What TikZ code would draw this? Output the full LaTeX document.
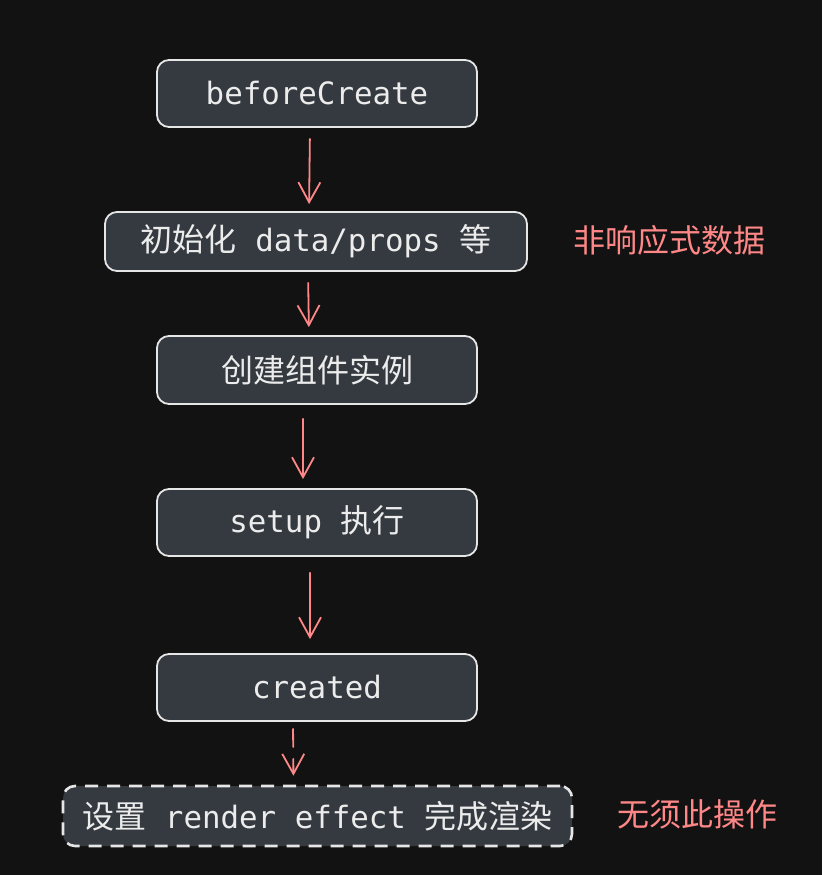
\documentclass[tikz,border=0pt]{standalone}
\usepackage{fontspec}
\setmonofont{DejaVu Sans Mono}
\newfontfamily\cjk{Noto Sans CJK SC}
\usetikzlibrary{arrows.meta}
\definecolor{bgc}{HTML}{121212}
\definecolor{boxfill}{HTML}{343A40}
\definecolor{boxline}{HTML}{E6E6E6}
\definecolor{txt}{HTML}{ECECEC}
\definecolor{redc}{HTML}{FF8787}
\newcommand{\M}[1]{{\ttfamily\fontsize{30.8}{36}\selectfont #1}}
\newcommand{\C}[1]{{\cjk\fontsize{32}{38}\selectfont #1}}
\tikzset{
  box/.style={draw=boxline, fill=boxfill, line width=1.8pt, rounded corners=12pt,
    text=txt, inner sep=0pt, anchor=center},
  arr/.style={draw=redc, line width=1.8pt, line cap=round,
    -{Straight Barb[length=20pt,width=22pt,line width=1.8pt]}},
  lab/.style={text=redc, inner sep=0pt}
}
\begin{document}
\begin{tikzpicture}[x=1pt,y=-1pt]
\fill[bgc] (0,0) rectangle (822,875);
\useasboundingbox (0,0) rectangle (822,875);
\node[box, minimum width=320pt, minimum height=67pt] (b1) at (317,93.5) {\M{beforeCreate}};
\node[box, minimum width=422pt, minimum height=59pt] (b2) at (316,241.5) {\C{初始化}\M{ data/props }\C{等}};
\node[box, minimum width=320pt, minimum height=68pt] (b3) at (317,370) {\C{创建组件实例}};
\node[box, minimum width=320pt, minimum height=67pt] (b4) at (317,522.5) {\M{setup }\C{执行}};
\node[box, minimum width=320pt, minimum height=67pt] (b5) at (317,687.5) {\M{created}};
\node[box, dashed, line width=2.6pt, dash pattern=on 13pt off 9pt, minimum width=509pt, minimum height=60pt] (b6) at (317.5,816) {\C{设置}\M{ render effect }\C{完成渲染}};
\node[lab] (l1) at (669,240) {\C{非响应式数据}};
\node[lab] (l2) at (697,814) {\C{无须此操作}};
\draw[arr, shorten <=11pt, shorten >=7pt] ([xshift=-7pt]b1.south) -- ([xshift=-7pt]b2.north);
\draw[arr, shorten <=11pt, shorten >=8pt] ([xshift=-8pt]b2.south) -- ([xshift=-8pt]b3.north);
\draw[arr, shorten <=14pt, shorten >=9pt] ([xshift=-14pt]b3.south) -- ([xshift=-14pt]b4.north);
\draw[arr, shorten <=16pt, shorten >=14pt] ([xshift=-7pt]b4.south) -- ([xshift=-7pt]b5.north);
\draw[arr, dashed, dash pattern=on 18pt off 12pt, shorten <=7pt, shorten >=9pt] ([xshift=-24pt]b5.south) -- ([xshift=-24pt]b6.north);
\end{tikzpicture}
\end{document}
